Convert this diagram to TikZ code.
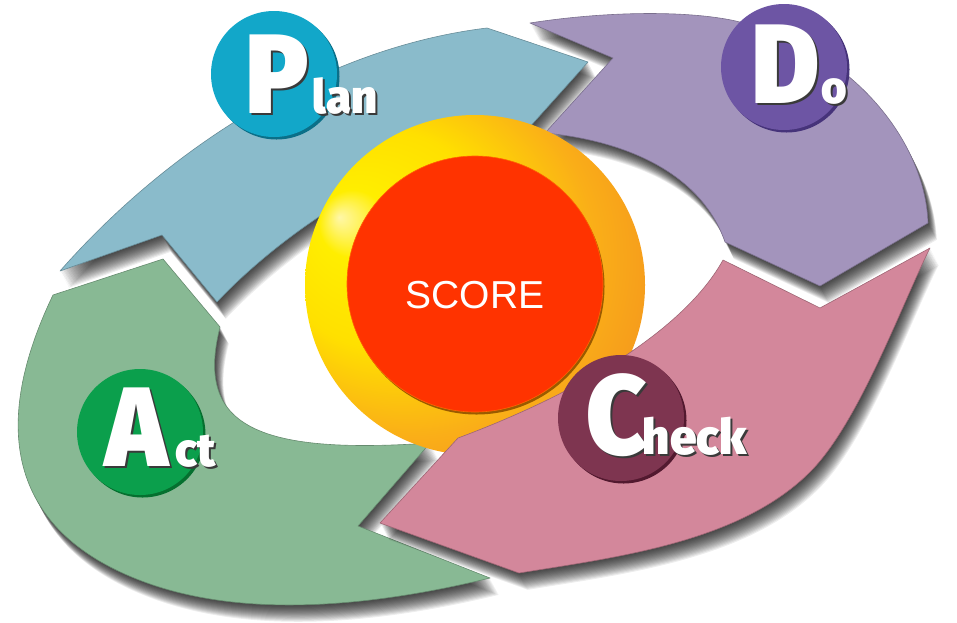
\documentclass[tikz,border=0pt]{standalone}
\usepackage{fontspec}
\setmainfont{Liberation Sans}
\newfontfamily\lettfont{Fira Sans Black}
\definecolor{planc}{HTML}{8ABBCB}
\definecolor{doc}{HTML}{A394BC}
\definecolor{checkc}{HTML}{D3879B}
\definecolor{actc}{HTML}{88B994}
\definecolor{plancirc}{HTML}{12A7C9}
\definecolor{plandark}{HTML}{0B6F88}
\definecolor{docirc}{HTML}{6D55A4}
\definecolor{dodark}{HTML}{46337A}
\definecolor{actcirc}{HTML}{0B9F4C}
\definecolor{actdark}{HTML}{05702F}
\definecolor{checkcirc}{HTML}{7E3550}
\definecolor{checkdark}{HTML}{52192F}
\definecolor{scorered}{HTML}{FF3300}
\definecolor{scoreedge}{HTML}{9A5A00}
\definecolor{ylwlight}{HTML}{FFF7A8}
\definecolor{ylw}{HTML}{FFEE00}
\definecolor{ylwdeep}{HTML}{FFE000}
\definecolor{ylworg}{HTML}{FAAE18}
\definecolor{org}{HTML}{F3901F}
\definecolor{txtshadow}{HTML}{3A3A3A}
\pgfdeclareradialshading{ringshade}{\pgfpoint{-20bp}{10bp}}{color(0bp)=(ylwlight); color(5bp)=(ylw); color(16bp)=(ylwdeep); color(27bp)=(ylworg); color(37bp)=(org); color(50bp)=(org)}
\newcommand\pathplan{(60,271) -- (162,235) -- (217,302) .. controls (280,235) and (400,150) .. (527,130) -- (588,62) -- (487,28) .. controls (338,46) and (181,134) .. (60,271) -- cycle}
\newcommand\pathdo{(530,23) -- (613,58) -- (545,133) .. controls (620,140) and (700,170) .. (725,242) -- (820,286) -- (928,223) .. controls (925,140) and (850,45) .. (731,20) .. controls (680,10) and (600,12) .. (530,23) -- cycle}
\newcommand\pathcheck{(930,248) -- (820,308) -- (723,260) .. controls (690,320) and (600,385) .. (458,438) -- (380,523) -- (519,573) .. controls (618,557) and (741,542) .. (811,471) .. controls (860,421) and (903,301) .. (930,248) -- cycle}
\newcommand\pathact{(430,443) -- (358,526) -- (490,578) .. controls (383,604) and (254,620) .. (150,584) .. controls (18,538) and (-16,439) .. (53,295) -- (163,259) -- (220,327) .. controls (195,425) and (255,455) .. (430,443) -- cycle}
\newcommand\dropshade[1]{\foreach \k in {1,...,16}{\fill[black,opacity=0.07,shift={(0.55*\k,1.05*\k)}] #1;}}
\newcommand\withshadow[1]{\rlap{\kern2pt\raisebox{-2.5pt}{\color{txtshadow}#1}}#1}
\newcommand\lbig[1]{\scalebox{0.92}[1]{\lettfont\fontsize{113}{113}\selectfont\withshadow{#1}}}
\newcommand\lsmall[2]{\scalebox{0.97}[1]{\lettfont\fontsize{#1}{#1}\selectfont\withshadow{#2}}}
\begin{document}
\begin{tikzpicture}[x=1pt,y=-1pt,
  arrowbody/.style={fill=#1, draw=#1!75!black, line width=0.6pt, line join=round},
  lettcirc/.style={circle, fill=#1, minimum size=126pt, inner sep=0pt},
  letttext/.style={text=white, inner sep=0pt, anchor=base west}]
\fill[white] (0,0) rectangle (957,622);
\useasboundingbox (0,0) rectangle (957,622);
% arrows
\dropshade{\pathact}
\path[arrowbody=actc] \pathact;
\dropshade{\pathcheck}
\path[arrowbody=checkc] \pathcheck;
\dropshade{\pathplan}
\path[arrowbody=planc] \pathplan;
\dropshade{\pathdo}
\path[arrowbody=doc] \pathdo;
% centre
\shade[shading=ringshade] (475,285) circle (170);
\fill[scoreedge] (476.5,286.5) circle (128);
\node[circle, fill=scorered, draw=orange!80!red, line width=0.6pt, minimum size=256pt, inner sep=0pt] (score) at (475,284) {};
\begin{scope}
\clip (475,285) circle (171);
\path[arrowbody=checkc] \pathcheck;
\end{scope}
\node[text=white, anchor=base, inner sep=0pt, font=\fontsize{39}{39}\selectfont] (scoretext) at (475,308) {SCORE};
% letter badges
\node[lettcirc=plandark] (planedge) at (276.5,76.5) {};
\node[lettcirc=plancirc] (plancircle) at (274,74) {};
\node[letttext] (plantext) at (245,113) {\lbig{P}\kern4pt\lsmall{47}{lan}};
\node[lettcirc=dodark] (doedge) at (786.5,69.5) {};
\node[lettcirc=docirc] (docircle) at (784,67) {};
\node[letttext] (dotext) at (751,103) {\lbig{D}\kern2pt\lsmall{45}{o}};
\node[lettcirc=actdark] (actedge) at (142.5,434.5) {};
\node[lettcirc=actcirc] (actcircle) at (140,432) {};
\node[letttext] (acttext) at (105,466) {\lbig{A}\kern8pt\lsmall{47}{ct}};
\node[lettcirc=checkdark] (checkedge) at (623.5,420.5) {};
\node[lettcirc=checkcirc] (checkcircle) at (621,418) {};
\node[letttext] (checktext) at (586,454) {\lbig{C}\kern-4pt\lsmall{49}{heck}};
\end{tikzpicture}
\end{document}
